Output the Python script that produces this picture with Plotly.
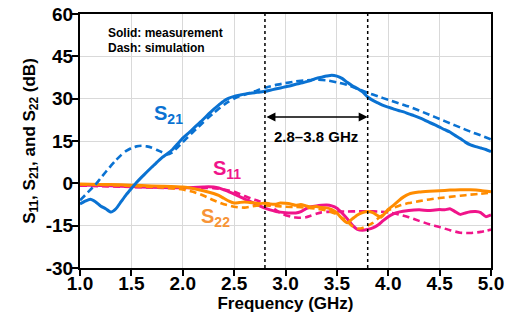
import plotly.graph_objects as go

# ---------------- data ----------------
f_s21m = [1.0, 1.05, 1.1, 1.15, 1.2, 1.25, 1.3, 1.35, 1.4, 1.45, 1.5, 1.55, 1.6, 1.65, 1.7, 1.75,
          1.8, 1.85, 1.9, 1.95, 2.0, 2.05, 2.1, 2.15, 2.2, 2.25, 2.3, 2.35, 2.4, 2.45, 2.5, 2.55,
          2.6, 2.65, 2.7, 2.75, 2.8, 2.85, 2.9, 2.95, 3.0, 3.05, 3.1, 3.15, 3.2, 3.25, 3.3, 3.35,
          3.4, 3.45, 3.5, 3.55, 3.6, 3.65, 3.7, 3.75, 3.8, 3.85, 3.9, 3.95, 4.0, 4.05, 4.1, 4.15,
          4.2, 4.25, 4.3, 4.35, 4.4, 4.45, 4.5, 4.55, 4.6, 4.65, 4.7, 4.75, 4.8, 4.85, 4.9, 4.95, 5.0]
s21_meas = [-7.3, -6.3, -5.6, -6.5, -8.0, -9.0, -10.2, -9.0, -6.5, -4.0, -1.8, 0.3, 2.2, 4.0, 5.8, 7.5,
            9.2, 10.5, 12.0, 14.0, 16.0, 17.6, 19.3, 21.0, 22.7, 24.5, 26.2, 27.7, 29.2, 30.2, 30.8, 31.2,
            31.6, 31.9, 32.1, 32.4, 32.6, 33.0, 33.4, 33.8, 34.2, 34.6, 35.1, 35.5, 36.0, 36.5, 37.2, 37.6,
            38.0, 38.3, 38.0, 37.2, 35.8, 34.6, 33.6, 32.4, 30.6, 29.4, 28.5, 27.6, 27.0, 26.4, 25.8, 25.3,
            24.6, 24.0, 23.3, 22.5, 21.6, 20.8, 19.9, 19.0, 18.2, 17.0, 15.9, 14.6, 13.6, 13.0, 12.5, 12.0, 11.2]

f_s21s = [1.0, 1.05, 1.1, 1.15, 1.2, 1.25, 1.3, 1.35, 1.4, 1.45, 1.5, 1.55, 1.6, 1.65, 1.7, 1.75,
          1.8, 1.85, 1.9, 1.95, 2.0, 2.05, 2.1, 2.15, 2.2, 2.25, 2.3, 2.35, 2.4, 2.45, 2.5, 2.55,
          2.6, 2.65, 2.7, 2.75, 2.8, 2.9, 3.0, 3.1, 3.2, 3.3, 3.4, 3.5, 3.6, 3.7, 3.8, 3.9, 4.0,
          4.1, 4.2, 4.3, 4.4, 4.5, 4.6, 4.7, 4.8, 4.9, 5.0]
s21_sim = [-6.0, -4.2, -2.3, -0.5, 1.8, 4.0, 6.2, 8.2, 10.0, 11.5, 12.5, 13.1, 13.3, 13.1, 12.6, 11.8,
           11.0, 10.2, 11.0, 12.8, 14.6, 16.4, 18.2, 19.9, 21.6, 23.3, 24.9, 26.4, 27.8, 29.0, 30.0, 30.8,
           31.4, 32.0, 32.6, 33.3, 33.9, 34.8, 35.5, 36.1, 36.5, 36.7, 36.5, 35.8, 34.9, 33.5, 32.1, 30.8, 29.6,
           28.4, 27.2, 25.8, 24.3, 22.8, 21.3, 19.8, 18.3, 17.0, 15.6]

f_s11m = [1.0, 1.2, 1.4, 1.6, 1.8, 2.0, 2.1, 2.2, 2.25, 2.3, 2.35, 2.4, 2.45, 2.5, 2.55, 2.6, 2.65,
          2.7, 2.75, 2.8, 2.85, 2.9, 2.95, 3.0, 3.05, 3.1, 3.15, 3.2, 3.25, 3.3, 3.35, 3.4, 3.45,
          3.5, 3.55, 3.6, 3.65, 3.7, 3.75, 3.8, 3.85, 3.9, 3.95, 4.0, 4.05, 4.1, 4.2, 4.3, 4.4,
          4.5, 4.55, 4.6, 4.65, 4.7, 4.75, 4.8, 4.85, 4.9, 4.95, 5.0]
s11_meas = [-0.6, -0.8, -1.0, -1.3, -1.5, -1.6, -1.5, -1.3, -1.2, -1.3, -1.6, -2.3, -3.0, -3.8, -4.6, -5.5, -6.3,
            -7.2, -8.0, -8.8, -9.4, -9.9, -10.2, -10.4, -10.5, -10.5, -10.0, -9.0, -8.3, -8.0, -7.8, -7.7, -8.0,
            -8.8, -10.5, -12.5, -14.8, -16.3, -16.6, -16.3, -15.8, -14.8, -13.2, -11.8, -10.8, -10.2, -9.6, -9.4, -9.6,
            -9.3, -9.4, -9.0, -10.0, -11.0, -10.5, -10.1, -10.0, -10.4, -11.8, -11.2]

f_s11s = [1.0, 1.2, 1.4, 1.6, 1.8, 2.0, 2.2, 2.3, 2.4, 2.5, 2.6, 2.7, 2.75, 2.8, 2.85, 2.9, 2.95, 3.0,
          3.05, 3.1, 3.15, 3.2, 3.25, 3.3, 3.35, 3.4, 3.5, 3.6, 3.7, 3.8, 3.9, 4.0, 4.1, 4.2, 4.3,
          4.4, 4.5, 4.6, 4.7, 4.8, 4.9, 5.0]
s11_sim = [-0.8, -1.0, -1.2, -1.4, -1.6, -1.7, -1.6, -1.7, -2.2, -3.0, -4.5, -5.8, -6.4, -7.0, -8.0, -9.3, -10.5, -11.3,
           -11.8, -12.1, -12.2, -12.0, -11.4, -10.8, -10.3, -10.1, -10.0, -10.0, -9.9, -9.9, -10.0, -10.3, -11.0, -12.0, -13.3,
           -14.5, -15.5, -16.6, -17.5, -17.6, -17.2, -16.4]

f_s22m = [1.0, 1.2, 1.4, 1.6, 1.8, 2.0, 2.1, 2.2, 2.3, 2.35, 2.4, 2.45, 2.5, 2.55, 2.6, 2.65, 2.7,
          2.75, 2.8, 2.85, 2.9, 2.95, 3.0, 3.05, 3.1, 3.15, 3.2, 3.25, 3.3, 3.35, 3.4, 3.45, 3.5,
          3.55, 3.6, 3.65, 3.7, 3.75, 3.8, 3.85, 3.9, 3.93, 3.97, 4.0, 4.05, 4.1, 4.15, 4.2, 4.3,
          4.4, 4.5, 4.6, 4.7, 4.8, 4.9, 5.0]
s22_meas = [-0.2, -0.4, -0.5, -0.8, -1.0, -1.3, -1.8, -2.6, -3.6, -4.3, -5.3, -6.3, -7.0, -6.8, -6.6, -6.8, -7.0,
            -7.2, -7.0, -7.3, -7.4, -7.0, -7.1, -7.3, -7.8, -7.5, -8.0, -8.4, -8.2, -8.6, -8.7, -9.3, -10.5,
            -12.5, -14.0, -12.6, -11.2, -10.4, -10.0, -10.4, -11.5, -12.0, -10.5, -9.2, -7.8, -6.2, -4.8, -3.8, -3.1,
            -2.8, -2.6, -2.4, -2.3, -2.3, -2.5, -3.0]

f_s22s = [1.0, 1.2, 1.4, 1.6, 1.8, 1.9, 2.0, 2.1, 2.2, 2.3, 2.4, 2.5, 2.6, 2.7, 2.8, 2.9, 3.0, 3.1,
          3.2, 3.3, 3.4, 3.5, 3.6, 3.65, 3.7, 3.75, 3.8, 3.85, 3.9, 3.95, 4.0, 4.1, 4.2, 4.3, 4.4,
          4.5, 4.6, 4.7, 4.8, 4.9, 5.0]
s22_sim = [-0.4, -0.6, -0.8, -1.1, -1.5, -1.8, -2.2, -3.0, -4.3, -6.0, -7.4, -8.3, -8.6, -8.0, -7.8, -8.0, -8.3, -8.4,
           -8.6, -9.0, -9.6, -11.0, -13.5, -15.2, -16.0, -15.8, -15.0, -14.0, -12.5, -11.0, -9.6, -8.0, -7.0, -6.3, -5.7,
           -5.2, -4.8, -4.4, -4.0, -3.7, -3.3]

x_ticks = [1.0, 1.5, 2.0, 2.5, 3.0, 3.5, 4.0, 4.5, 5.0]
x_tick_labels = ["1.0", "1.5", "2.0", "2.5", "3.0", "3.5", "4.0", "4.5", "5.0"]
y_ticks = [-30, -15, 0, 15, 30, 45, 60]
y_tick_labels = ["-30", "-15", "0", "15", "30", "45", "60"]
band = [2.8, 3.8]
band_arrow_level = 23.5
band_text_level = 16.5
note_lines = ["Solid: measurement", "Dash: simulation"]
note_levels = [53.3, 48.0]
note_x = 1.25

# ---------------- style ----------------
BLUE = "#0A72D2"
PINK = "#F0148A"
ORANGE = "#FF8C00"
ORANGE_TXT = "#F79437"
FONT = "Liberation Sans, Arial, sans-serif"
DASH = "7px,4px"

fig = go.Figure()

def add(x, y, color, dash):
    fig.add_trace(go.Scatter(x=x, y=y, mode="lines",
                             line=dict(color=color, width=3 if dash == "solid" else 2.6,
                                       dash=dash, shape="spline", smoothing=0.5),
                             showlegend=False, hoverinfo="skip"))

add(f_s11s, s11_sim, PINK, DASH)
add(f_s11m, s11_meas, PINK, "solid")
add(f_s22s, s22_sim, ORANGE, DASH)
add(f_s22m, s22_meas, ORANGE, "solid")
add(f_s21s, s21_sim, BLUE, DASH)
add(f_s21m, s21_meas, BLUE, "solid")

# vertical dotted band markers
for b in band:
    fig.add_shape(type="line", x0=b, x1=b, y0=0, y1=1, xref="x", yref="y domain",
                  line=dict(color="black", width=1.5, dash="dot"))

# double-headed arrow
fig.add_annotation(x=band[1], y=band_arrow_level, ax=band[0], ay=band_arrow_level,
                   xref="x", yref="y", axref="x", ayref="y",
                   showarrow=True, arrowhead=2, arrowside="end+start",
                   arrowsize=1.2, arrowwidth=1.5, arrowcolor="black", text="")
fig.add_annotation(x=(band[0] + band[1]) / 2, y=band_text_level, xref="x", yref="y",
                   text="2.8–3.8 GHz", showarrow=False,
                   font=dict(family=FONT, size=15, color="black", weight="bold"))

# series labels
fig.add_annotation(x=1.86, y=24.5, text="S<sub>21</sub>", showarrow=False,
                   font=dict(family=FONT, size=20, color=BLUE, weight="bold"))
fig.add_annotation(x=2.43, y=5.0, text="S<sub>11</sub>", showarrow=False,
                   font=dict(family=FONT, size=20, color=PINK, weight="bold"))
fig.add_annotation(x=2.32, y=-12.0, text="S<sub>22</sub>", showarrow=False,
                   font=dict(family=FONT, size=20, color=ORANGE_TXT, weight="bold"))

# legend-like text
for txt, lvl in zip(note_lines, note_levels):
    fig.add_annotation(x=note_x, y=lvl, xref="x", yref="y", xanchor="left", yanchor="middle",
                       text=txt, align="left", showarrow=False,
                       font=dict(family=FONT, size=12, color="black", weight="bold"))

axis_common = dict(showline=True, linecolor="black", linewidth=2, mirror=True,
                   showgrid=True, gridcolor="#D9D9D9", gridwidth=1,
                   ticks="outside", ticklen=6, tickwidth=2, tickcolor="black",
                   zeroline=False, automargin=False,
                   tickfont=dict(family=FONT, size=19, color="black", weight="bold"))

fig.update_xaxes(range=[1.0, 5.0], tickvals=x_ticks, ticktext=x_tick_labels,
                 ticklabelstandoff=-9,
                 title=dict(text="Frequency (GHz)", standoff=3,
                            font=dict(family=FONT, size=17, color="black", weight="bold")),
                 **axis_common)
fig.update_yaxes(range=[-30, 60], tickvals=y_ticks, ticktext=y_tick_labels,
                 ticklabelstandoff=-5,
                 title=dict(text="S<sub>11</sub>, S<sub>21</sub>, and S<sub>22</sub> (dB)", standoff=6,
                            font=dict(family=FONT, size=17, color="black", weight="bold")),
                 **axis_common)

fig.update_layout(width=516, height=326, margin=dict(l=80, r=25, t=14, b=58),
                  plot_bgcolor="white", paper_bgcolor="white")

fig.write_html("out.html")
